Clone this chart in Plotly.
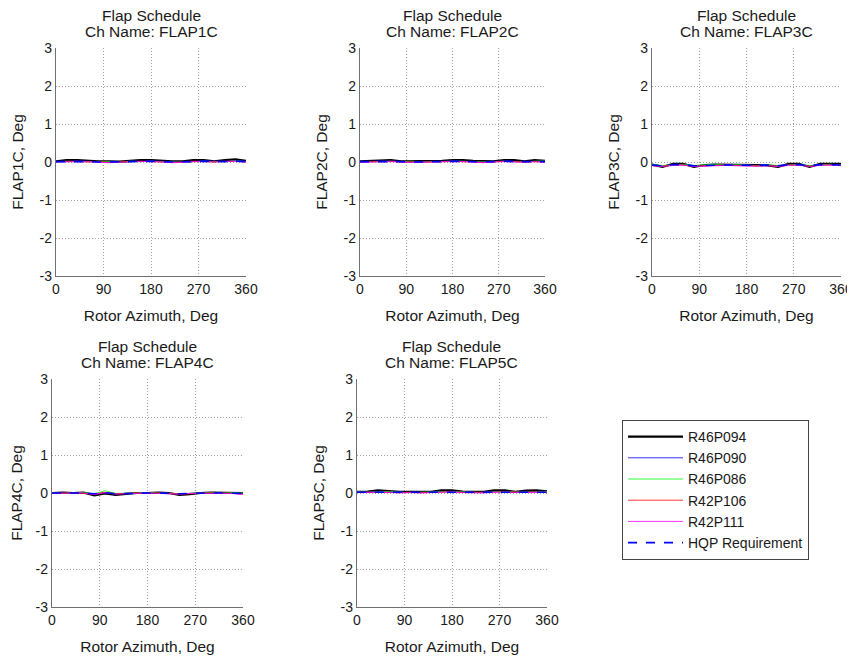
import plotly.graph_objects as go

# ---------------- data ----------------
azimuth = [0, 20, 40, 60, 80, 100, 120, 140, 160, 180, 200, 220, 240, 260, 280, 300, 320, 340, 360]

series_names = ["R46P094", "R46P090", "R46P086", "R42P106", "R42P111", "HQP Requirement"]
channels = ["FLAP1C", "FLAP2C", "FLAP3C", "FLAP4C", "FLAP5C"]
x_ticks = [0, 90, 180, 270, 360]
y_ticks = [-3, -2, -1, 0, 1, 2, 3]

flap1_R46P094 = [0.02, 0.05, 0.05, 0.03, 0.02, 0.02, 0.01, 0.03, 0.05, 0.05, 0.03, 0.02, 0.02, 0.05, 0.05, 0.02, 0.05, 0.07, 0.03]
flap1_R46P090 = [0.01, 0.02, 0.03, 0.02, 0.01, 0.00, -0.01, 0.01, 0.02, 0.03, 0.02, 0.01, 0.00, 0.02, 0.03, 0.02, 0.02, 0.04, 0.02]
flap1_R46P086 = [0.00, 0.02, 0.01, 0.01, 0.00, 0.01, -0.01, 0.02, 0.01, 0.02, 0.01, 0.00, -0.01, 0.01, 0.02, 0.01, 0.01, 0.03, 0.01]
flap1_R42P106 = [0.01, 0.01, 0.02, 0.00, 0.01, -0.01, 0.00, 0.02, 0.02, 0.01, 0.00, -0.01, 0.00, 0.02, 0.01, 0.00, 0.02, 0.02, 0.00]
flap1_R42P111 = [0.00, 0.00, 0.01, 0.01, -0.01, -0.02, -0.01, 0.01, 0.01, 0.02, 0.00, -0.02, -0.01, 0.01, 0.02, 0.00, 0.01, 0.02, 0.00]
flap1_HQP = [0.01, 0.01, 0.02, 0.01, 0.00, 0.00, 0.00, 0.01, 0.02, 0.02, 0.01, 0.00, 0.00, 0.01, 0.02, 0.01, 0.01, 0.02, 0.01]

flap2_R46P094 = [0.02, 0.03, 0.05, 0.05, 0.02, 0.02, 0.02, 0.02, 0.03, 0.05, 0.05, 0.03, 0.02, 0.02, 0.05, 0.05, 0.02, 0.05, 0.03]
flap2_R46P090 = [0.01, 0.02, 0.02, 0.03, 0.01, 0.00, 0.01, 0.01, 0.02, 0.03, 0.02, 0.01, 0.00, 0.01, 0.03, 0.02, 0.01, 0.02, 0.01]
flap2_R46P086 = [0.00, 0.01, 0.02, 0.02, 0.01, 0.02, 0.00, 0.01, 0.01, 0.02, 0.02, 0.01, 0.00, 0.01, 0.02, 0.01, 0.00, 0.02, 0.03]
flap2_R42P106 = [0.00, 0.01, 0.01, 0.02, 0.00, 0.00, -0.01, 0.00, 0.01, 0.02, 0.01, 0.00, -0.01, 0.00, 0.02, 0.01, 0.00, 0.01, 0.00]
flap2_R42P111 = [-0.01, 0.00, 0.01, 0.01, 0.00, -0.01, -0.01, 0.00, 0.01, 0.01, 0.01, -0.01, -0.02, 0.00, 0.01, 0.00, -0.01, 0.01, -0.01]
flap2_HQP = [0.01, 0.01, 0.02, 0.02, 0.01, 0.00, 0.00, 0.01, 0.01, 0.02, 0.02, 0.01, 0.00, 0.01, 0.02, 0.01, 0.01, 0.01, 0.01]

flap3_R46P094 = [-0.07, -0.13, -0.05, -0.05, -0.13, -0.08, -0.07, -0.07, -0.08, -0.08, -0.08, -0.09, -0.13, -0.05, -0.05, -0.13, -0.05, -0.05, -0.05]
flap3_R46P090 = [-0.08, -0.10, -0.07, -0.07, -0.10, -0.09, -0.08, -0.07, -0.08, -0.09, -0.09, -0.08, -0.10, -0.07, -0.07, -0.10, -0.07, -0.07, -0.08]
flap3_R46P086 = [-0.07, -0.09, -0.08, -0.06, -0.09, -0.08, -0.06, -0.08, -0.07, -0.08, -0.10, -0.07, -0.09, -0.08, -0.06, -0.09, -0.08, -0.06, -0.07]
flap3_R42P106 = [-0.09, -0.11, -0.08, -0.08, -0.11, -0.10, -0.09, -0.08, -0.09, -0.10, -0.10, -0.09, -0.11, -0.08, -0.08, -0.11, -0.08, -0.08, -0.09]
flap3_R42P111 = [-0.10, -0.12, -0.09, -0.08, -0.12, -0.11, -0.09, -0.09, -0.10, -0.11, -0.11, -0.10, -0.12, -0.09, -0.08, -0.12, -0.09, -0.08, -0.10]
flap3_HQP = [-0.08, -0.10, -0.07, -0.07, -0.10, -0.09, -0.08, -0.08, -0.08, -0.09, -0.09, -0.08, -0.10, -0.07, -0.07, -0.10, -0.07, -0.07, -0.08]

flap4_R46P094 = [0.00, 0.01, 0.00, 0.01, -0.06, -0.01, -0.05, -0.03, 0.00, 0.00, 0.01, 0.00, -0.05, -0.03, 0.00, 0.01, 0.01, 0.01, 0.00]
flap4_R46P090 = [0.00, 0.00, -0.01, 0.00, -0.03, 0.01, -0.02, -0.02, -0.01, 0.00, -0.01, -0.01, -0.02, -0.01, -0.01, 0.00, -0.01, 0.00, -0.01]
flap4_R46P086 = [0.01, -0.01, 0.00, 0.01, -0.02, 0.06, -0.01, -0.01, 0.00, 0.01, 0.00, 0.00, -0.02, -0.01, 0.00, 0.01, 0.00, 0.01, 0.00]
flap4_R42P106 = [-0.01, 0.00, 0.00, -0.01, -0.03, 0.02, -0.02, -0.01, 0.00, -0.01, 0.00, -0.01, -0.03, -0.02, 0.00, 0.00, 0.00, -0.01, -0.03]
flap4_R42P111 = [-0.01, -0.01, 0.00, 0.00, -0.04, 0.01, -0.03, -0.02, -0.01, 0.00, -0.01, -0.02, -0.03, -0.01, -0.01, -0.01, 0.00, -0.01, -0.04]
flap4_HQP = [0.00, 0.00, 0.00, 0.00, -0.02, 0.01, -0.02, -0.01, 0.00, 0.00, 0.00, -0.01, -0.02, -0.01, 0.00, 0.00, 0.00, 0.00, -0.01]

flap5_R46P094 = [0.03, 0.04, 0.07, 0.05, 0.03, 0.03, 0.03, 0.03, 0.07, 0.07, 0.04, 0.03, 0.03, 0.07, 0.07, 0.03, 0.06, 0.07, 0.04]
flap5_R46P090 = [0.02, 0.03, 0.04, 0.03, 0.02, 0.02, 0.01, 0.02, 0.04, 0.04, 0.02, 0.01, 0.02, 0.04, 0.04, 0.02, 0.03, 0.04, 0.03]
flap5_R46P086 = [0.03, 0.02, 0.03, 0.04, 0.02, 0.01, 0.02, 0.03, 0.03, 0.04, 0.03, 0.02, 0.01, 0.03, 0.04, 0.03, 0.02, 0.03, 0.04]
flap5_R42P106 = [0.02, 0.02, 0.03, 0.02, 0.01, 0.02, 0.01, 0.02, 0.03, 0.03, 0.02, 0.02, 0.01, 0.02, 0.03, 0.02, 0.02, 0.03, 0.02]
flap5_R42P111 = [0.01, 0.01, 0.02, 0.02, 0.00, 0.01, 0.00, 0.01, 0.02, 0.03, 0.01, 0.00, 0.00, 0.02, 0.02, 0.01, 0.01, 0.02, 0.01]
flap5_HQP = [0.02, 0.02, 0.03, 0.03, 0.02, 0.02, 0.02, 0.02, 0.03, 0.03, 0.02, 0.02, 0.02, 0.03, 0.03, 0.02, 0.02, 0.03, 0.02]

panel_data = [
    [flap1_R46P094, flap1_R46P090, flap1_R46P086, flap1_R42P106, flap1_R42P111, flap1_HQP],
    [flap2_R46P094, flap2_R46P090, flap2_R46P086, flap2_R42P106, flap2_R42P111, flap2_HQP],
    [flap3_R46P094, flap3_R46P090, flap3_R46P086, flap3_R42P106, flap3_R42P111, flap3_HQP],
    [flap4_R46P094, flap4_R46P090, flap4_R46P086, flap4_R42P106, flap4_R42P111, flap4_HQP],
    [flap5_R46P094, flap5_R46P090, flap5_R46P086, flap5_R42P106, flap5_R42P111, flap5_HQP],
]

# ---------------- styling ----------------
W, H = 855, 660
OFF = 8  # page body margin in the browser
FONT = "Liberation Sans, Arial, Helvetica, sans-serif"
TXT = "#1a1a1a"


def px(xp):
    return (xp - OFF) / W


def py(yp):
    return 1 - (yp - OFF) / H


line_styles = [
    dict(color="#000000", width=2.2),
    dict(color="#0000ff", width=0.8),
    dict(color="#00ff00", width=0.8),
    dict(color="#ff0000", width=0.8),
    dict(color="#ff00ff", width=0.8),
    dict(color="#0000ff", width=1.6, dash="dash"),
]

# screen pixel boxes (left, right, top, bottom) of the axes
boxes = [
    (56, 246, 48, 276),
    (360, 545, 48, 276),
    (652, 841, 48, 276),
    (52, 243, 379, 607),
    (357, 547, 379, 607),
]

fig = go.Figure()
layout = dict(
    width=W, height=H,
    margin=dict(l=0, r=0, t=0, b=0, pad=0, autoexpand=False),
    paper_bgcolor="white", plot_bgcolor="white",
    font=dict(family=FONT, size=15, color=TXT),
    annotations=[],
)

for i, (ch, (l, r, t, b)) in enumerate(zip(channels, boxes)):
    k = "" if i == 0 else str(i + 1)
    xa, ya = "x" + k, "y" + k
    for j, (name, ys) in enumerate(zip(series_names, panel_data[i])):
        fig.add_trace(go.Scatter(
            x=azimuth, y=ys, mode="lines", name=name,
            line=line_styles[j], xaxis=xa, yaxis=ya,
            legendgroup=name, showlegend=(i == 0),
        ))
    common = dict(
        showgrid=True, gridcolor="#a0a0a0", griddash="1px,2px", gridwidth=1,
        showline=True, linecolor="#707070", linewidth=1.3,
        zeroline=False, ticks="", tickfont=dict(size=14, family=FONT, color=TXT),
        automargin=False,
    )
    layout["xaxis" + k] = dict(
        common, domain=[px(l), px(r)], range=[0, 360], anchor=ya,
        tickvals=x_ticks, ticktext=[str(v) for v in x_ticks],
        title=dict(text="Rotor Azimuth, Deg", standoff=14, font=dict(size=15.5)),
    )
    layout["yaxis" + k] = dict(
        common, domain=[py(b), py(t)], range=[-3, 3], anchor=xa,
        tickvals=y_ticks, ticktext=[str(v) for v in y_ticks],
        title=dict(text=ch + ", Deg", standoff=12, font=dict(size=15.5)),
    )
    cx = px((l + r) / 2)
    layout["annotations"].append(dict(
        text="Flap Schedule", x=cx, y=py(t - 32.5), xref="paper", yref="paper",
        xanchor="center", yanchor="middle", showarrow=False, borderpad=0,
        font=dict(size=15.5)))
    layout["annotations"].append(dict(
        text="Ch Name: " + ch, x=cx, y=py(t - 16.5), xref="paper", yref="paper",
        xanchor="center", yanchor="middle", showarrow=False, borderpad=0,
        font=dict(size=15.5)))

layout["legend"] = dict(
    x=px(622), y=py(420), xanchor="left", yanchor="top",
    bgcolor="white", bordercolor="#444444", borderwidth=1,
    font=dict(size=14, family=FONT, color=TXT),
    tracegroupgap=0, itemwidth=55, entrywidth=150, entrywidthmode="pixels",
)
layout["showlegend"] = True

fig.update_layout(**layout)
fig.write_html("out.html")
